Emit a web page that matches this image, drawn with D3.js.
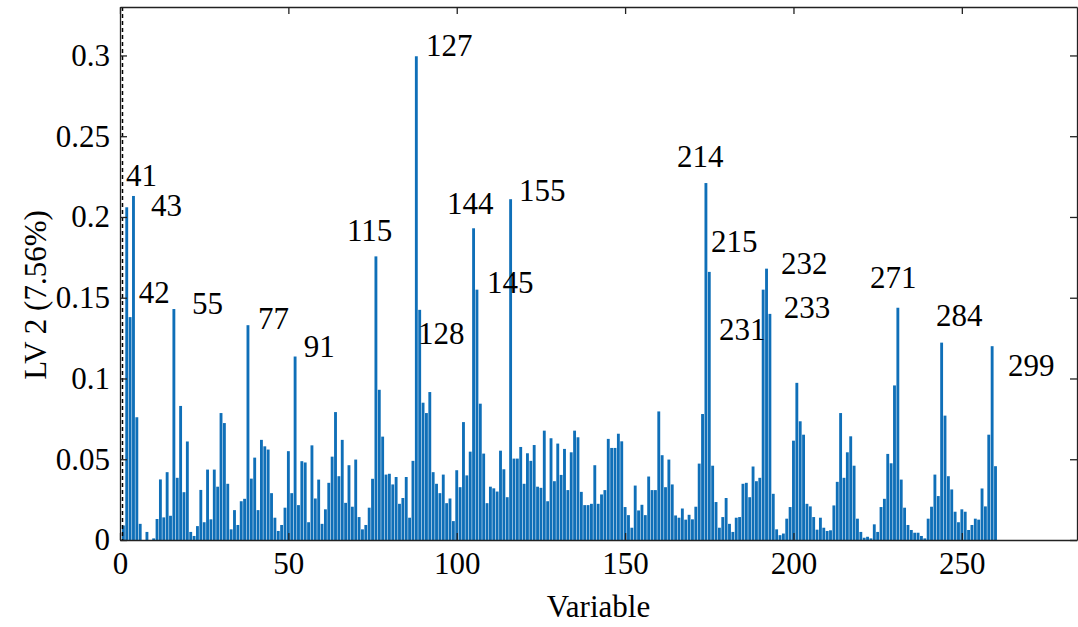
<!DOCTYPE html>
<html>
<head>
<meta charset="utf-8">
<script src="https://cdn.jsdelivr.net/npm/d3@7"></script>
<style>
  body { margin: 0; background: #fff; }
  text { font-family: "Liberation Serif", "Times New Roman", serif; fill: #000; }
</style>
</head>
<body>
<div id="chart"></div>
<script>
var svgWidth = 1078;
var svgHeight = 627;

var margin = { top: 7, right: 1, bottom: 87, left: 120 };
var width = svgWidth - margin.left - margin.right;
var height = svgHeight - margin.top - margin.bottom;

// loadings of LV 2, one per variable (1..260)
var loadings = [
  0.009, 0.206, 0.138, 0.213, 0.076, 0.010, 0.000, 0.005, 0.000, 0.001,
  0.013, 0.0375, 0.014, 0.042, 0.015, 0.143, 0.0385, 0.083, 0.0296, 0.061,
  0.005, 0.0025, 0.0086, 0.031, 0.011, 0.0436, 0.0128, 0.0436, 0.033, 0.0786,
  0.0724, 0.0348, 0.0066, 0.0185, 0.0093, 0.024, 0.0255, 0.133, 0.038, 0.051,
  0.0185, 0.062, 0.058, 0.056, 0.029, 0.0138, 0.0056, 0.0093, 0.020, 0.055,
  0.029, 0.1136, 0.0216, 0.0488, 0.048, 0.011, 0.0586, 0.0257, 0.0374, 0.010,
  0.019, 0.0354, 0.0516, 0.0792, 0.0395, 0.062, 0.023, 0.0463, 0.0206, 0.0498,
  0.0142, 0.0066, 0.0093, 0.020, 0.0379, 0.1756, 0.093, 0.064, 0.0405, 0.041,
  0.0344, 0.039, 0.0224, 0.026, 0.039, 0.0138, 0.049, 0.2995, 0.1425, 0.085,
  0.0786, 0.0916, 0.042, 0.0348, 0.029, 0.0405, 0.0228, 0.0257, 0.0117, 0.0432,
  0.0327, 0.073, 0.040, 0.0547, 0.193, 0.155, 0.0844, 0.0535, 0.0228, 0.033,
  0.032, 0.030, 0.0553, 0.0438, 0.0265, 0.211, 0.0504, 0.0504, 0.0576, 0.0348,
  0.0537, 0.049, 0.0588, 0.033, 0.0323, 0.0677, 0.024, 0.063, 0.0364, 0.0597,
  0.0403, 0.0564, 0.0309, 0.0543, 0.0677, 0.0636, 0.0298, 0.0216, 0.0216, 0.0224,
  0.0463, 0.0224, 0.0282, 0.0309, 0.0626, 0.057, 0.057, 0.0658, 0.0611, 0.0204,
  0.0154, 0.0076, 0.0337, 0.0183, 0.0218, 0.0154, 0.0393, 0.0309, 0.0309, 0.0796,
  0.0525, 0.0327, 0.0498, 0.0344, 0.0152, 0.0138, 0.0195, 0.0126, 0.0156, 0.0128,
  0.0206, 0.0473, 0.078, 0.221, 0.166, 0.046, 0.0235, 0.0076, 0.0142, 0.026,
  0.010, 0.005, 0.0138, 0.0142, 0.0348, 0.0354, 0.0265, 0.0455, 0.0364, 0.0385,
  0.155, 0.168, 0.140, 0.0286, 0.0066, 0.003, 0.004, 0.0132, 0.0204, 0.0615,
  0.0973, 0.0735, 0.0652, 0.0224, 0.0208, 0.0142, 0.0064, 0.0138, 0.0076, 0.0056,
  0.006, 0.0214, 0.036, 0.0786, 0.0385, 0.0543, 0.0642, 0.046, 0.0132, 0.005,
  0.0014, 0.002, 0.001, 0.0097, 0.005, 0.0204, 0.0255, 0.0533, 0.0475, 0.0957,
  0.1438, 0.0374, 0.020, 0.0093, 0.0062, 0.0045, 0.0045, 0.0025, 0.001, 0.0132,
  0.0206, 0.0405, 0.0272, 0.1222, 0.077, 0.0395, 0.0313, 0.0175, 0.011, 0.019,
  0.0175, 0.0062, 0.0093, 0.0132, 0.0126, 0.0319, 0.0208, 0.0652, 0.120, 0.0457
];

// peak annotations (text anchor in data units)
var peakNames = ["41", "43", "42", "55", "77", "91", "115", "127", "128", "144",
  "145", "155", "214", "215", "231", "232", "233", "271", "284", "299"];
var peakX = [1.8, 9.2, 5.6, 21.4, 41.0, 54.6, 67.4, 90.9, 88.5, 97.1,
  109.0, 118.5, 165.4, 175.5, 177.9, 196.3, 197.1, 222.7, 242.3, 263.7];
var peakY = [0.226, 0.2076, 0.1537, 0.1468, 0.1375, 0.1202, 0.1921, 0.3061, 0.1283, 0.2088,
  0.1599, 0.2169, 0.2379, 0.1853, 0.1307, 0.1716, 0.1444, 0.1629, 0.1394, 0.1084];

var xTicks = [0, 50, 100, 150, 200, 250];
var yTicks = [0, 0.05, 0.1, 0.15, 0.2, 0.25, 0.3];

var svg = d3.select("#chart")
  .append("svg")
  .attr("width", svgWidth)
  .attr("height", svgHeight);

var chartGroup = svg.append("g")
  .attr("transform", `translate(${margin.left}, ${margin.top})`);

var xScale = d3.scaleLinear().domain([0, 284.2]).range([0, width]);
var yScale = d3.scaleLinear().domain([0, 0.33]).range([height, 0]);

var barW = (xScale(1) - xScale(0)) * 0.85;

// bars
chartGroup.selectAll("rect.bar")
  .data(loadings)
  .enter()
  .append("rect")
  .attr("class", "bar")
  .attr("x", (d, i) => xScale(i + 1) - barW / 2)
  .attr("y", d => yScale(d))
  .attr("width", barW)
  .attr("height", d => height - yScale(d))
  .attr("fill", "#0f6fb8");

// dashed line at x = 0
chartGroup.append("line")
  .attr("x1", xScale(0) + 2.5)
  .attr("x2", xScale(0) + 2.5)
  .attr("y1", 0)
  .attr("y2", height)
  .attr("stroke", "#000")
  .attr("stroke-width", 1.5)
  .attr("stroke-dasharray", "4,3");

// axes, ticks pointing inward
var bottomAxis = d3.axisBottom(xScale).tickValues(xTicks)
  .tickSizeInner(-7).tickSizeOuter(0).tickPadding(12);
var leftAxis = d3.axisLeft(yScale).tickValues(yTicks)
  .tickFormat(d => d === 0 ? "0" : String(+d.toFixed(2)))
  .tickSizeInner(-7).tickSizeOuter(0).tickPadding(10);
var topAxis = d3.axisTop(xScale).tickValues(xTicks)
  .tickFormat("").tickSizeInner(-7).tickSizeOuter(0);
var rightAxis = d3.axisRight(yScale).tickValues(yTicks)
  .tickFormat("").tickSizeInner(-7).tickSizeOuter(0);

chartGroup.append("g")
  .attr("transform", `translate(0, ${height})`)
  .call(bottomAxis);
chartGroup.append("g").call(leftAxis);
chartGroup.append("g").call(topAxis);
chartGroup.append("g")
  .attr("transform", `translate(${width}, 0)`)
  .call(rightAxis);

chartGroup.selectAll(".domain, .tick line")
  .attr("stroke", "#222")
  .attr("stroke-width", 1.3);
chartGroup.selectAll(".tick text")
  .attr("font-family", "Liberation Serif")
  .style("font-family", "'Liberation Serif', serif")
  .style("font-size", "31px");

// peak labels
chartGroup.append("g")
  .selectAll("text")
  .data(peakNames)
  .enter()
  .append("text")
  .attr("x", (d, i) => xScale(peakX[i]))
  .attr("y", (d, i) => yScale(peakY[i]))
  .attr("dy", "0.35em")
  .style("font-size", "31px")
  .text(d => d);

// axis titles
chartGroup.append("text")
  .attr("x", width / 2)
  .attr("y", height + 66)
  .attr("dy", "0.35em")
  .attr("text-anchor", "middle")
  .style("font-size", "31px")
  .text("Variable");

chartGroup.append("text")
  .attr("transform", "rotate(-90)")
  .attr("x", -(295 - margin.top))
  .attr("y", -85)
  .attr("dy", "0.35em")
  .attr("text-anchor", "middle")
  .style("font-size", "31px")
  .text("LV 2 (7.56%)");
</script>
</body>
</html>
